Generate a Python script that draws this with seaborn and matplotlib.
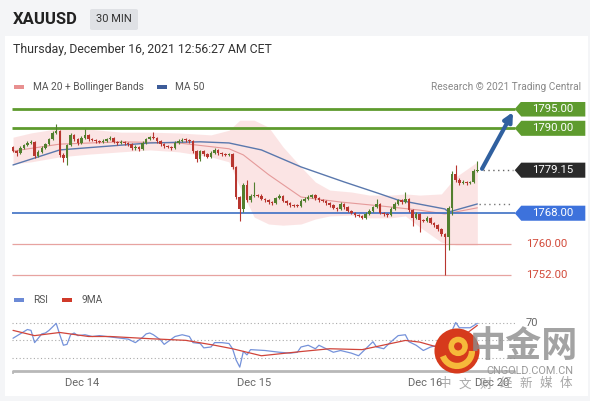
import numpy as np
import pandas as pd
import matplotlib
matplotlib.use("Agg")
import matplotlib.pyplot as plt
import seaborn as sns
from matplotlib.patches import Rectangle, Polygon, Circle, FancyBboxPatch, Arc

# ---------------- data ----------------
first_open = 1785.2
closes = [1784.1, 1783.6, 1784.9, 1785.7, 1786.2, 1786.5, 1782.8, 1783.9, 1784.9, 1785.9,
          1787.2, 1788.8, 1789.3, 1783.1, 1782.3, 1785.7, 1788.3, 1787.2, 1786.2, 1787.5,
          1788.3, 1787.2, 1787.0, 1786.7, 1786.5, 1786.7, 1787.2, 1787.5, 1786.5, 1786.2,
          1786.5, 1786.2, 1785.9, 1784.9, 1785.2, 1784.6, 1786.2, 1787.2, 1787.7, 1787.5,
          1786.7, 1785.9, 1785.4, 1785.2, 1784.9, 1786.2, 1786.7, 1787.0, 1786.9, 1786.7,
          1784.1, 1782.0, 1784.1, 1783.3, 1782.6, 1783.6, 1784.4, 1783.6, 1783.3, 1783.1,
          1783.3, 1780.0, 1772.2, 1769.1, 1775.3, 1771.4, 1772.5, 1772.7, 1772.5, 1771.7,
          1771.4, 1770.9, 1770.6, 1771.9, 1772.5, 1771.2, 1770.6, 1770.1, 1770.0, 1769.9,
          1771.2, 1771.7, 1772.2, 1772.7, 1771.9, 1771.4, 1771.2, 1770.6, 1770.1, 1769.4,
          1769.1, 1770.4, 1769.6, 1768.6, 1768.1, 1767.5, 1767.3, 1766.8, 1767.8, 1768.6,
          1769.6, 1770.4, 1768.1, 1767.8, 1767.5, 1769.1, 1770.4, 1771.4, 1770.9, 1771.7,
          1768.8, 1766.8, 1767.8, 1766.2, 1766.0, 1766.8, 1765.5, 1764.9, 1763.9, 1762.6,
          1761.8, 1769.4, 1778.2, 1776.6, 1775.8, 1776.1, 1775.8, 1776.0, 1779.0, 1779.15]
highs = [1785.5, 1784.4, 1785.3, 1786.0, 1786.6, 1786.9, 1786.8, 1784.3, 1785.3, 1786.3,
         1787.6, 1789.2, 1791.1, 1789.6, 1783.5, 1786.0, 1788.7, 1788.6, 1787.5, 1787.9,
         1789.8, 1788.6, 1787.5, 1787.3, 1787.0, 1787.1, 1787.6, 1787.9, 1787.8, 1786.8,
         1786.9, 1786.8, 1786.5, 1786.2, 1785.6, 1785.5, 1786.6, 1787.6, 1788.1, 1789.0,
         1787.8, 1787.0, 1786.2, 1785.7, 1785.5, 1786.6, 1787.1, 1787.4, 1787.4, 1787.3,
         1787.0, 1784.4, 1784.5, 1784.5, 1783.7, 1784.0, 1784.8, 1784.7, 1783.9, 1783.6,
         1783.7, 1783.6, 1780.3, 1772.5, 1775.8, 1776.6, 1772.9, 1776.1, 1773.1, 1772.9,
         1772.0, 1771.7, 1771.2, 1772.3, 1772.9, 1772.8, 1771.5, 1770.9, 1770.4, 1770.3,
         1771.6, 1772.1, 1772.6, 1773.1, 1773.0, 1772.2, 1771.7, 1771.5, 1770.9, 1770.4,
         1769.7, 1770.8, 1770.7, 1769.9, 1768.9, 1768.4, 1767.8, 1767.6, 1768.2, 1769.0,
         1770.0, 1771.7, 1770.7, 1768.4, 1768.1, 1769.5, 1770.8, 1771.8, 1771.7, 1773.5,
         1772.0, 1769.1, 1768.2, 1768.1, 1766.6, 1767.2, 1767.1, 1765.8, 1765.2, 1764.2,
         1762.9, 1769.8, 1779.0, 1780.5, 1777.0, 1776.5, 1776.4, 1776.4, 1779.4, 1781.5]
lows = [1783.8, 1782.8, 1783.3, 1784.6, 1785.4, 1785.9, 1782.4, 1782.5, 1783.6, 1784.6,
        1785.6, 1786.9, 1788.5, 1782.6, 1781.3, 1780.5, 1785.4, 1786.8, 1785.8, 1785.9,
        1787.2, 1786.8, 1786.6, 1786.3, 1786.1, 1786.2, 1786.4, 1786.9, 1786.1, 1785.8,
        1785.9, 1785.8, 1785.5, 1784.4, 1784.5, 1784.1, 1784.3, 1785.9, 1786.9, 1787.1,
        1786.3, 1785.5, 1785.0, 1784.8, 1784.5, 1784.6, 1785.9, 1786.4, 1786.5, 1786.3,
        1783.7, 1781.3, 1781.6, 1782.9, 1782.2, 1782.3, 1783.3, 1783.2, 1782.9, 1782.7,
        1782.7, 1779.5, 1771.6, 1766.0, 1768.3, 1771.0, 1771.0, 1772.1, 1772.1, 1771.3,
        1771.0, 1770.5, 1770.2, 1770.3, 1771.6, 1770.8, 1770.2, 1769.7, 1769.6, 1769.5,
        1769.6, 1770.9, 1771.4, 1771.9, 1771.5, 1771.0, 1770.8, 1770.2, 1769.7, 1769.0,
        1768.7, 1768.8, 1769.2, 1768.2, 1767.7, 1767.1, 1766.9, 1766.4, 1766.5, 1767.5,
        1768.3, 1769.3, 1767.7, 1767.4, 1767.1, 1767.2, 1768.8, 1770.1, 1770.5, 1770.6,
        1768.4, 1764.7, 1766.5, 1763.1, 1765.6, 1765.7, 1765.1, 1764.5, 1763.5, 1762.2,
        1752.0, 1758.5, 1767.5, 1776.2, 1775.4, 1775.6, 1775.4, 1775.5, 1775.7, 1778.7]

band_idx = [0, 5, 13, 21, 30, 38, 46, 55, 60, 63, 67, 71, 75, 80, 84, 88, 94, 99, 105, 109, 113, 119, 123, 127, 129]
band_upper = [1787.7, 1788.8, 1790.0, 1789.8, 1789.0, 1789.0, 1788.8, 1788.3, 1789.5, 1792.1, 1792.1, 1790.3,
              1785.2, 1780.0, 1776.1, 1774.0, 1773.5, 1772.7, 1772.7, 1773.0, 1772.7, 1773.0, 1777.4, 1780.0, 1781.3]
band_lower = [1780.8, 1781.3, 1782.6, 1783.3, 1783.9, 1784.4, 1783.9, 1782.6, 1781.3, 1774.8, 1767.0, 1765.2,
              1764.9, 1765.2, 1766.5, 1767.3, 1767.5, 1766.8, 1766.8, 1767.3, 1764.4, 1760.5, 1759.8, 1759.8, 1759.8]
ma20_idx = [0, 13, 30, 46, 60, 64, 71, 80, 91, 102, 113, 120, 129]
ma20_val = [1784.1, 1785.9, 1786.5, 1786.2, 1784.7, 1783.1, 1778.0, 1772.2, 1770.9, 1769.9, 1768.8, 1767.8, 1769.4]
ma50_idx = [0, 13, 24, 38, 52, 60, 69, 80, 92, 102, 107, 120, 121, 129]
ma50_val = [1780.5, 1784.4, 1785.2, 1786.2, 1786.5, 1786.2, 1784.4, 1780.0, 1776.1, 1773.0, 1771.4, 1769.1, 1768.3, 1770.4]

rsi_idx = [0, 2, 4, 5, 6, 7, 8, 9, 10, 11, 12, 13, 14, 15, 16, 17, 18, 20, 22, 24, 26, 28, 30, 32, 34, 36, 37,
           38, 39, 41, 42, 43, 45, 47, 49, 50, 52, 53, 55, 56, 58, 60, 61, 62, 63, 64, 65, 66, 70, 74, 77, 79,
           80, 82, 84, 85, 87, 89, 91, 94, 96, 98, 100, 101, 103, 105, 107, 109, 110, 112, 114, 116, 118, 120,
           121, 123, 124, 127, 129]
rsi_val = [52, 57, 62, 61, 47, 52, 57, 58, 61, 65, 69, 56, 44, 45, 56, 58, 55, 56, 54, 55, 54, 53, 52, 51, 47, 53, 57,
           58, 56, 50, 45, 48, 54, 56, 54, 47, 46, 41, 42, 47, 47, 46, 40, 27, 19, 37, 33, 39, 38, 36, 35, 36,
           42, 44, 40, 44, 40, 36, 38, 35, 32, 40, 48, 42, 40, 48, 55, 56, 48, 44, 38, 42, 44, 35,
           52, 70, 64, 64, 69]
ma9_idx = [0, 6, 13, 21, 27, 38, 48, 56, 61, 69, 80, 88, 97, 109, 113, 118, 121, 129]
ma9_val = [61, 55, 58.6, 54, 54, 51.5, 49.6, 44, 40, 32, 36.8, 40, 39, 49.5, 47.6, 41.8, 42, 66.7]

levels_res = [1795.0, 1790.0]
level_sup = 1768.0
levels_low = [1760.0, 1752.0]
last_price = 1779.15
ma_last = 1770.4
day_ticks = [19.2, 67.0, 114.4, 133.0]
day_labels = ["Dec 14", "Dec 15", "Dec 16", "Dec 20"]
wm_chars = ["中", "文", "财", "经", "新", "媒", "体"]

# ---------------- figure ----------------
sns.set_theme(style="white")
plt.rcParams['font.family'] = ['Roboto', 'Noto Sans CJK SC', 'DejaVu Sans']

W, H = 590, 401
fig = plt.figure(figsize=(5.9, 4.01), dpi=100)
fig.patch.set_facecolor('#f4f5f7')

def fx(px):
    return px / W

def fy(py):
    return 1 - py / H

fig.add_artist(Rectangle((fx(5), fy(396)), fx(583), (396 - 36) / H, transform=fig.transFigure,
                         facecolor='white', edgecolor='none', zorder=0))

# header
fig.text(fx(13), fy(20), "XAUUSD", fontsize=12, fontweight='bold', color='#222222', va='center')
fig.add_artist(FancyBboxPatch((fx(90), fy(30)), fx(48), 21 / H, boxstyle="round,pad=0,rounding_size=0.004",
                              transform=fig.transFigure, facecolor='#dfe1e5', edgecolor='none'))
fig.text(fx(114), fy(19.5), "30 MIN", fontsize=8, color='#333333', va='center', ha='center')
fig.text(fx(13), fy(50), "Thursday, December 16, 2021 12:56:27 AM CET", fontsize=8.8, color='#333333', va='center')

# legends
def swatch(x, y, c):
    fig.add_artist(Rectangle((fx(x), fy(y + 2)), fx(10), 4 / H, transform=fig.transFigure,
                             facecolor=c, edgecolor='none'))

swatch(14, 87, '#e89090')
fig.text(fx(33), fy(87), "MA 20 + Bollinger Bands", fontsize=7.3, color='#555555', va='center')
swatch(157, 87, '#3d5c99')
fig.text(fx(175), fy(87), "MA 50", fontsize=7.3, color='#555555', va='center')
fig.text(fx(581), fy(87), "Research © 2021 Trading Central", fontsize=7.3, color='#888888', va='center', ha='right')
swatch(14, 300, '#6c8ad6')
fig.text(fx(33), fy(300), "RSI", fontsize=7.3, color='#555555', va='center')
swatch(62, 300, '#d03a2a')
fig.text(fx(82), fy(300), "9MA", fontsize=7.3, color='#555555', va='center')

# main price axes
XL = (-0.28, 160.3)
ax = fig.add_axes([fx(12), fy(284), fx(578), (284 - 102) / H])
ax.set_xlim(*XL)
ax.set_ylim(1795 - (284 - 109) / 3.86, 1795 + 7 / 3.86)
ax.set_axis_off()

idx = np.arange(len(closes))
opens = np.array([first_open] + closes[:-1])
c = np.array(closes)
up = c >= opens
col = np.where(up, '#527f2e', '#b8362f')
ax.vlines(idx, lows, highs, colors=col, lw=0.8, zorder=3)
body_h = np.maximum(np.abs(c - opens), 0.2)
ax.bar(idx, body_h, bottom=np.minimum(c, opens), width=0.72, color=col, edgecolor='none', zorder=4)

ax.fill_between(band_idx, band_lower, band_upper, color='#fbe0e0', alpha=0.85, lw=0, zorder=1)
sns.lineplot(x=ma20_idx, y=ma20_val, ax=ax, color='#e59a9a', lw=0.8, zorder=2)
sns.lineplot(x=ma50_idx, y=ma50_val, ax=ax, color='#5a78ad', lw=1.0, zorder=2)

x_end = 139.4
ax.hlines(levels_res, XL[0], x_end, color='#5e9b2e', lw=2, zorder=2)
ax.hlines(level_sup, XL[0], x_end, color='#3d6fc4', lw=1.2, zorder=2)
ax.hlines(levels_low, XL[0], 138.3, color='#e7a3a0', lw=0.9, zorder=2)
ax.hlines([last_price], 130.5, 139, color='#666666', lw=1, linestyles=(0, (1, 2.5)), zorder=2)
ax.hlines([ma_last], 129.5, 139, color='#777777', lw=1, linestyles=(0, (1, 2.5)), zorder=2)

hh = 1.95
def tag(price, color, text):
    x0, x1 = x_end, 159.0
    poly = Polygon([(x0, price), (x0 + 1.8, price + hh), (x1, price + hh), (x1, price - hh), (x0 + 1.8, price - hh)],
                   closed=True, facecolor=color, edgecolor='none', zorder=5)
    ax.add_patch(poly)
    ax.text(149.8, price, text, color='white', fontsize=8.2, ha='center', va='center', zorder=6)

tag(levels_res[0], '#5e9b2e', f"{levels_res[0]:.2f}")
tag(levels_res[1], '#5e9b2e', f"{levels_res[1]:.2f}")
tag(last_price, '#2a2a2a', f"{last_price:.2f}")
tag(level_sup, '#3d72dc', f"{level_sup:.2f}")
for lv in levels_low:
    ax.text(148.3, lv, f"{lv:.2f}", color='#d24a3a', fontsize=8.2, ha='center', va='center')

ax.annotate('', xy=(138.9, 1794.2), xytext=(130.3, 1779.5),
            arrowprops=dict(arrowstyle='-|>', color='#30609f', lw=3, mutation_scale=13, shrinkA=0, shrinkB=0))

# RSI axes
ax2 = fig.add_axes([fx(12), fy(375.5), fx(578), (375.5 - 310.5) / H])
ax2.set_xlim(*XL)
ax2.set_ylim(70 - 53 / 0.875, 70 + 12 / 0.875)
for s in ax2.spines.values():
    s.set_visible(False)
ax2.set_yticks([])
ax2.set_facecolor('none')
ax2.hlines([70, 50, 30], XL[0], x_end, color='#aaaaaa', lw=0.8, linestyles=(0, (1, 2.2)))
sns.lineplot(x=rsi_idx, y=rsi_val, ax=ax2, color='#7592da', lw=0.9)
sns.lineplot(x=ma9_idx, y=ma9_val, ax=ax2, color='#d0443a', lw=0.9)
base = 70 - 48 / 0.875
ax2.hlines(base, XL[0], x_end, color='#b8b8b8', lw=2)
ax2.vlines([XL[0] + 0.25, x_end], base - 4.5, base, color='#b8b8b8', lw=1.2)
ax2.text(144.2, 70, "70", color='#666666', fontsize=8, ha='center', va='center')
ax2.set_xticks(day_ticks)
ax2.set_xticklabels(day_labels)
ax2.tick_params(axis='x', length=0, pad=2, labelsize=8, labelcolor='#666666')
ax2.set_xlabel('')
ax2.set_ylabel('')

# watermark
fig.text(fx(578), fy(346), "中金网", fontsize=26, fontweight='bold', color='#8c8c8c', alpha=0.8,
         ha='right', va='center', family=['Noto Sans CJK SC', 'DejaVu Sans'])
fig.text(fx(530), fy(371), "CNGOLD.COM.CN", fontsize=7.8, color='#9a9a9a', ha='center', va='center')
for k, ch in enumerate(wm_chars):
    fig.text(fx(445 + 20.2 * k), fy(384), ch, fontsize=9, color='#999999', alpha=0.85,
             ha='center', va='center', family=['Noto Sans CJK SC', 'DejaVu Sans'])
axl = fig.add_axes([fx(434), fy(374), fx(46), 46 / H])
axl.set_xlim(-1, 1)
axl.set_ylim(-1, 1)
axl.set_aspect('equal')
axl.set_axis_off()
axl.add_patch(Circle((0, 0), 0.98, facecolor='#d63a1c', edgecolor='none'))
axl.add_patch(Circle((0.05, 0.2), 0.3, facecolor='none', edgecolor='#f6b93a', lw=4))
axl.add_patch(Arc((0.0, 0.0), 1.3, 1.3, theta1=200, theta2=360, edgecolor='#f6b93a', lw=4.5))

fig.savefig("out.png", dpi=100, facecolor=fig.get_facecolor())
